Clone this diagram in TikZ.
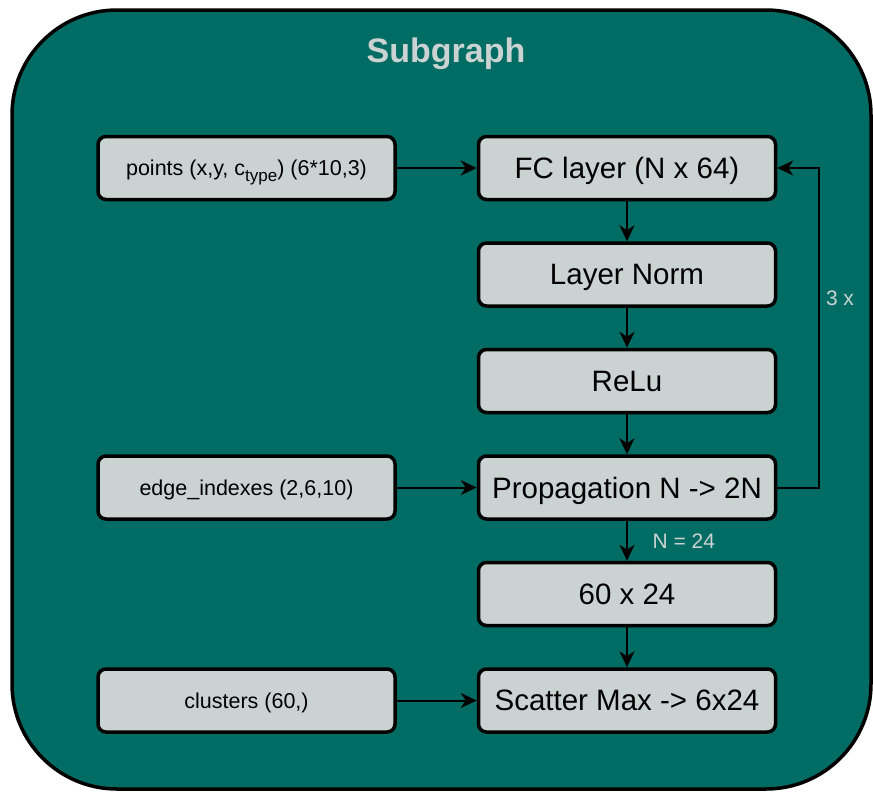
\documentclass[tikz,border=0pt]{standalone}
\usepackage{fontspec}
\setmainfont{Liberation Sans}
\usetikzlibrary{arrows.meta,positioning,calc}
\definecolor{tealbg}{HTML}{006C63}
\definecolor{boxgray}{HTML}{CBD3D2}
\begin{document}
\begin{tikzpicture}[x=1pt,y=-1pt,>={Stealth[length=16pt,width=15pt,inset=5pt]},box/.style={draw,line width=3.5pt,rounded corners=8pt,minimum height=63pt,fill=boxgray,inner sep=2pt,text depth=0pt},mainbox/.style={box,minimum width=297pt,font=\fontsize{29.5}{32}\selectfont},inbox/.style={box,minimum width=297pt,font=\fontsize{21.5}{24}\selectfont},flow/.style={line width=2pt,->}]
\useasboundingbox (0,0) rectangle (873,793);
\draw[line width=3.5pt,fill=tealbg,rounded corners=105pt] (12,10) rectangle (871,789);
\node[text=boxgray,font=\bfseries\fontsize{34}{38}\selectfont] (title) at (446,54) {Subgraph};
\node[mainbox] (fc) at (627,168) {FC layer (N x 64)};
\node[mainbox,below=40pt of fc] (norm) {Layer Norm};
\node[mainbox,below=40pt of norm] (relu) {ReLu};
\node[mainbox,below=40pt of relu] (prop) {Propagation N -> 2N};
\node[mainbox,below=40pt of prop] (out) {60 x 24};
\node[mainbox,below=40pt of out] (scat) {Scatter Max -> 6x24};
\node[inbox,left=80pt of fc] (pts) {points (x,y, c\raisebox{-6pt}{\fontsize{17}{20}\selectfont type}) (6*10,3)};
\node[inbox,left=80pt of prop] (edge) {edge\_indexes (2,6,10)};
\node[inbox,left=80pt of scat] (clu) {clusters (60,)};
\draw[flow] (pts)--(fc);
\draw[flow] (edge)--(prop);
\draw[flow] (clu)--(scat);
\draw[flow] (fc)--(norm);
\draw[flow] (norm)--(relu);
\draw[flow] (relu)--(prop);
\draw[flow] (prop)--(out);
\draw[flow] (out)--(scat);
\draw[flow] (prop.east) -- ++(42,0) |- (fc.east);
\node[text=boxgray,font=\fontsize{21}{24}\selectfont] (times) at (840,298) {3 x};
\node[text=boxgray,font=\fontsize{21}{24}\selectfont,right=22pt of $(prop.south)!0.5!(out.north)$] (nval) {N = 24};
\end{tikzpicture}
\end{document}
